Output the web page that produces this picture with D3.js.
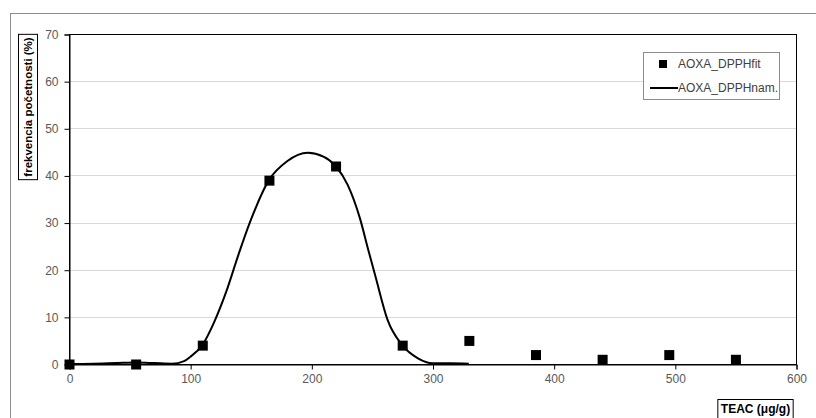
<!DOCTYPE html>
<html>
<head>
<meta charset="utf-8">
<script src="https://cdn.jsdelivr.net/npm/d3@7"></script>
<style>
  body { margin: 0; background: #fff; }
  text { font-family: "Liberation Sans", Arial, sans-serif; }
</style>
</head>
<body>
<div id="chart"></div>
<script>
// measured points (squares)
var fitX = [0, 55, 110, 165, 220, 275, 330, 385, 440, 495, 550];
var fitY = [0, 0, 4, 39, 42, 4, 5, 2, 1, 2, 1];

// smooth line
var namX = [0, 20, 40, 55, 70, 85, 95, 100, 110, 120, 130, 140, 150, 165, 180, 197, 210, 220, 230, 240, 247, 253, 263, 275, 288, 300, 315, 330];
var namY = [0, 0.05, 0.2, 0.3, 0.2, 0.05, 0.6, 1.5, 4, 9, 15.5, 23.3, 30.5, 39, 43, 44.8, 44, 42, 38, 31, 24.2, 18.5, 9.3, 4, 1.2, 0.15, 0.15, 0.05];

var xTicks = [0, 100, 200, 300, 400, 500, 600];
var yTicks = [0, 10, 20, 30, 40, 50, 60, 70];

var svgWidth = 816;
var svgHeight = 418;

var margin = { top: 34, right: 20, bottom: 54, left: 69 };
var width = 796 - margin.left;
var height = 364 - margin.top;

var svg = d3.select("#chart")
  .append("svg")
  .attr("width", svgWidth)
  .attr("height", svgHeight);

// outer chart frame (runs off the right and bottom edge)
svg.append("rect")
  .attr("x", 10.5)
  .attr("y", 13.5)
  .attr("width", 820)
  .attr("height", 420)
  .attr("fill", "none")
  .attr("stroke", "#8c8c8c");

var chartGroup = svg.append("g")
  .attr("transform", `translate(${margin.left}, ${margin.top})`);

var xScale = d3.scaleLinear().domain([0, 600]).range([0, width]);
var yScale = d3.scaleLinear().domain([0, 70]).range([height, 0]);

// gridlines
chartGroup.append("g")
  .selectAll("line")
  .data(yTicks.filter(d => d > 0 && d < 70))
  .enter()
  .append("line")
  .attr("x1", 0)
  .attr("x2", width)
  .attr("y1", d => Math.round(yScale(d)) + 0.5)
  .attr("y2", d => Math.round(yScale(d)) + 0.5)
  .attr("stroke", "#d9d9d9");

// plot border
chartGroup.append("rect")
  .attr("x", 0.5)
  .attr("y", 0.5)
  .attr("width", width)
  .attr("height", height)
  .attr("fill", "none")
  .attr("stroke", "#000");

var bottomAxis = d3.axisBottom(xScale).tickValues(xTicks).tickSize(5).tickPadding(5);
var leftAxis = d3.axisLeft(yScale).tickValues(yTicks).tickSize(5).tickPadding(6);

var xAxis = chartGroup.append("g")
  .attr("transform", `translate(0.5, ${height + 0.5})`)
  .call(bottomAxis);

var yAxis = chartGroup.append("g")
  .attr("transform", "translate(0.5, 0.5)")
  .call(leftAxis);

[xAxis, yAxis].forEach(function(ax) {
  ax.select(".domain").attr("stroke", "#000");
  ax.selectAll(".tick line").attr("stroke", "#000");
  ax.selectAll(".tick text")
    .attr("fill", "#595959")
    .style("font-size", "12px")
    .style("font-family", "'Liberation Sans', Arial, sans-serif");
});

// line
var namData = namX.map((x, i) => ({ x: x, y: namY[i] }));
var line = d3.line()
  .x(d => xScale(d.x))
  .y(d => yScale(d.y))
  .curve(d3.curveMonotoneX);

chartGroup.append("path")
  .datum(namData)
  .attr("d", line)
  .attr("fill", "none")
  .attr("stroke", "#000")
  .attr("stroke-width", 2);

// squares
var fitData = fitX.map((x, i) => ({ x: x, y: fitY[i] }));
var sq = 10;
chartGroup.selectAll(".pt")
  .data(fitData)
  .enter()
  .append("rect")
  .classed("pt", true)
  .attr("x", d => xScale(d.x) - sq / 2 + 0.5)
  .attr("y", d => yScale(d.y) - sq / 2 + 0.5)
  .attr("width", sq)
  .attr("height", sq)
  .attr("fill", "#000");

// legend
var legend = svg.append("g");
legend.append("rect")
  .attr("x", 643.5)
  .attr("y", 52.5)
  .attr("width", 136)
  .attr("height", 47)
  .attr("fill", "#fff")
  .attr("stroke", "#8c8c8c");
legend.append("rect")
  .attr("x", 659)
  .attr("y", 60)
  .attr("width", 8)
  .attr("height", 8)
  .attr("fill", "#000");
legend.append("line")
  .attr("x1", 650)
  .attr("x2", 678)
  .attr("y1", 88)
  .attr("y2", 88)
  .attr("stroke", "#000")
  .attr("stroke-width", 2);
legend.append("text")
  .attr("x", 678)
  .attr("y", 68)
  .style("font-size", "12px")
  .attr("fill", "#404040")
  .text("AOXA_DPPHfit");
legend.append("text")
  .attr("x", 678)
  .attr("y", 92)
  .style("font-size", "12px")
  .attr("fill", "#404040")
  .text("AOXA_DPPHnam.");

// axis titles with boxes
function boxedLabel(cx, cy, rot, label, size, h) {
  var g = svg.append("g").attr("transform", `translate(${cx}, ${cy}) rotate(${rot})`);
  var t = g.append("text")
    .attr("text-anchor", "middle")
    .attr("dy", "0.35em")
    .style("font-size", size + "px")
    .style("font-weight", "bold")
    .attr("fill", "#000")
    .text(label);
  var w = t.node().getComputedTextLength();
  g.insert("rect", "text")
    .attr("x", -w / 2 - 3)
    .attr("y", -h / 2)
    .attr("width", w + 6)
    .attr("height", h)
    .attr("fill", "#fff")
    .attr("stroke", "#000");
}

boxedLabel(28, 107, -90, "frekvencia početnosti (%)", 11.5, 19);
boxedLabel(755.5, 409, 0, "TEAC (μg/g)", 12, 19);
</script>
</body>
</html>
